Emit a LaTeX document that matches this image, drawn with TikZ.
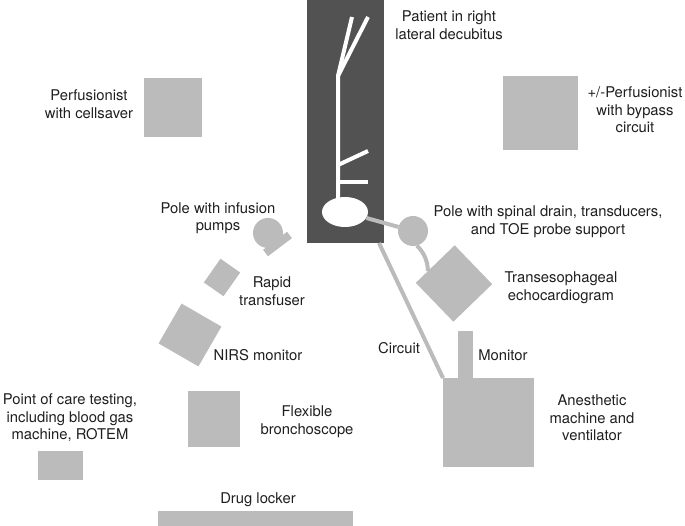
\documentclass[tikz,border=0pt]{standalone}
\usepackage{fontspec}
\setmainfont{TeX Gyre Heros}
\usetikzlibrary{shapes.geometric}
\definecolor{equip}{RGB}{187,187,187}
\definecolor{bed}{RGB}{82,82,82}

\begin{document}
\begin{tikzpicture}[x=1pt,y=-1pt,
    box/.style={fill=equip,inner sep=0pt,outer sep=0pt},
    lbl/.style={align=center,font=\fontsize{14.8}{17.6}\selectfont,text=black!88},
    cable/.style={draw=equip,line width=4pt},
    limb/.style={draw=white,line width=4pt}]
  \useasboundingbox (0,0) rectangle (685,526);
  % table and patient
  \node[box,fill=bed,minimum width=77,minimum height=243] (table) at (345.5,121.5) {};
  \node[ellipse,fill=white,inner sep=0pt,minimum width=46,minimum height=30] (pelvis) at (345,212) {};
  \draw[limb] (338,198) -- (338,76) -- (352,17); \draw[limb] (338,76) -- (368,17);
  \draw[limb] (338,165) -- (368,151); \draw[limb] (338,182) -- (368,182);
  \node[lbl] (patient) at (449,25) {Patient in right\\lateral decubitus};
  % perfusion
  \node[box,minimum width=58,minimum height=59] (cellsaver) at (173,107.5) {};
  \node[lbl] (cellsaverlbl) at (89,104) {Perfusionist\\with cellsaver};
  \node[box,minimum width=75,minimum height=74] (bypass) at (540.5,113) {};
  \node[lbl] (bypasslbl) at (635,110) {+/-Perfusionist\\with bypass\\circuit};
  % right side
  \node[box,circle,minimum size=30] (spinalpole) at (413,231) {};
  \node[lbl] (spinalpolelbl) at (548,222) {Pole with spinal drain, transducers,\\and TOE probe support};
  \node[box,rotate=44,minimum size=54] (toe) at (454,283.5) {};
  \coordinate (probe) at (428,271);
  \node[lbl] (toelbl) at (561,288) {Transesophageal\\echocardiogram};
  \node[box,minimum width=15,minimum height=48] (monitor) at (465.5,355) {};
  \node[lbl] (monitorlbl) at (503,355) {Monitor};
  \node[box,minimum width=91,minimum height=89] (anesthetic) at (488.5,422.5) {};
  \node[lbl] (anestheticlbl) at (592,418) {Anesthetic\\machine and\\ventilator};
  \draw[cable] (pelvis) -- (spinalpole);
  \draw[cable] (spinalpole.-75) to[bend left=20] (probe);
  \draw[cable] ([xshift=-5pt]table.south east) -- (anesthetic.north west);
  \node[lbl] (circuitlbl) at (399,348) {Circuit};
  % left side
  \node[box,circle,minimum size=30] (infpole) at (268,233) {};
  \node[box,rotate=37,minimum width=30,minimum height=8] (pumpclamp) at (277.5,244) {};
  \node[lbl] (infpolelbl) at (218,218) {Pole with infusion\\pumps};
  \node[box,rotate=-35,minimum width=24,minimum height=29] (transfuser) at (222,277.5) {};
  \node[lbl] (transfuserlbl) at (272,291) {Rapid\\transfuser};
  \node[box,rotate=-30,minimum size=46] (nirs) at (190,335) {};
  \node[lbl] (nirslbl) at (258,355) {NIRS monitor};
  \node[box,minimum width=52,minimum height=56] (broncho) at (214,419) {};
  \node[lbl] (broncholbl) at (307,422) {Flexible\\bronchoscope};
  \node[box,minimum width=45,minimum height=29] (poc) at (60.5,465.5) {};
  \node[lbl] (poclbl) at (70,418) {Point of care testing,\\including blood gas\\machine, ROTEM};
  \node[box,minimum width=195,minimum height=15] (locker) at (255.5,518.5) {};
  \node[lbl] (lockerlbl) at (258,500) {Drug locker};
\end{tikzpicture}
\end{document}
